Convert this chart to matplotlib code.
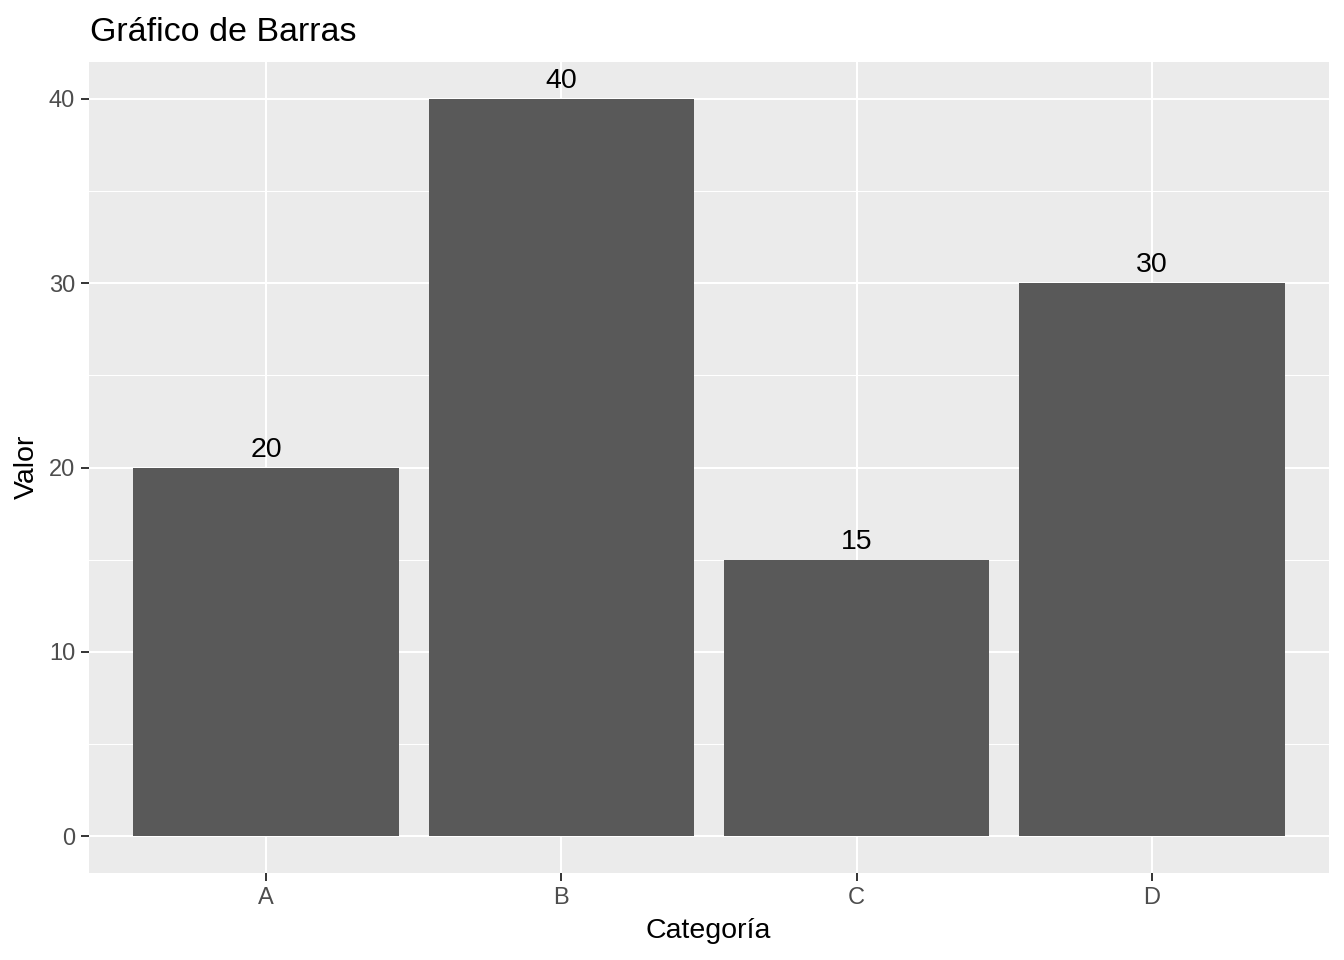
import matplotlib
matplotlib.use("Agg")
import matplotlib.pyplot as plt
from matplotlib.ticker import MultipleLocator

categories = ["A", "B", "C", "D"]
values = [20, 40, 15, 30]
y_ticks = [0, 10, 20, 30, 40]

plt.rcParams['font.family'] = ['Liberation Sans', 'DejaVu Sans']

W, H = 1344, 960
fig = plt.figure(figsize=(W / 100, H / 100), dpi=100)
L, R, T, B = 89, 1329, 62, 873
ax = fig.add_axes([L / W, 1 - B / H, (R - L) / W, (B - T) / H])
ax.set_facecolor("#EBEBEB")

x = list(range(1, len(categories) + 1))
ax.set_axisbelow(True)
ax.bar(x, values, width=0.9, color="#595959", zorder=3)
for xi, v in zip(x, values):
    ax.annotate(str(v), (xi, v), xytext=(0, 7.8), textcoords="offset points",
                ha="center", va="baseline", fontsize=20.5, color="black", zorder=4)

ax.set_xlim(0.4, 4.6)
ax.set_ylim(-2, 42)
ax.set_xticks(x)
ax.set_xticklabels(categories)
ax.set_yticks(y_ticks)
ax.yaxis.set_minor_locator(MultipleLocator(5))
ax.grid(which="major", color="white", linewidth=1.5)
ax.grid(which="minor", axis="y", color="white", linewidth=0.75)
for s in ax.spines.values():
    s.set_visible(False)
ax.tick_params(axis="both", which="major", length=5.5, width=1.4, color="#333333",
               labelsize=17, labelcolor="#4D4D4D", pad=4.5)
ax.tick_params(axis="both", which="minor", length=0)

ax.set_xlabel("Categoría", fontsize=20.5)
ax.set_ylabel("Valor", fontsize=20.5)
ax.xaxis.label.set_va("center")
ax.yaxis.label.set_va("center")
ax.xaxis.set_label_coords((708 - L) / (R - L), -(931 - B) / (B - T))
ax.yaxis.set_label_coords(-(L - 27) / (R - L), (B - 467) / (B - T))
fig.text(90 / W, 1 - 41 / H, "Gráfico de Barras", fontsize=24.5, ha="left", va="baseline")

fig.savefig("out.png", dpi=100)
